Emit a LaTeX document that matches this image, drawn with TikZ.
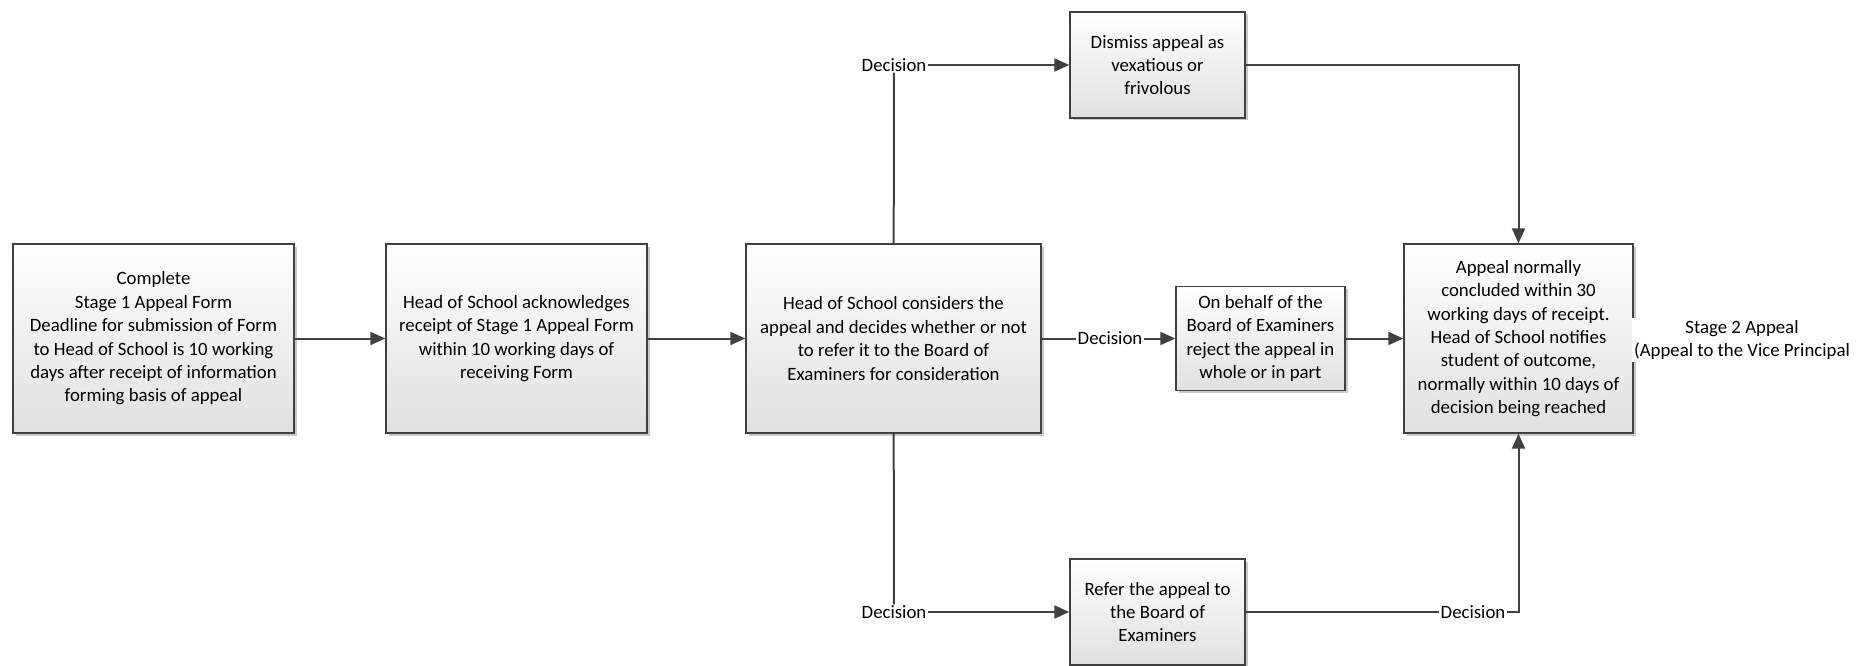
\documentclass[tikz,border=0pt]{standalone}
\usepackage{fontspec}
\setmainfont{Carlito}
\usetikzlibrary{arrows.meta,shadows}

\begin{document}
\begin{tikzpicture}[x=1pt, y=-1pt,
			box/.style={draw=black!75, line width=1.4pt, top color=white, bottom color=black!12,
				align=center, inner sep=2pt,
				drop shadow={shadow xshift=2.5pt, shadow yshift=-2.5pt, opacity=0.3, fill=black!70}},
			decision/.style={inner sep=1pt},
			link/.style={draw=black!75, line width=2pt},
			label/.style={fill=white, inner sep=2pt, align=center},
			>={Triangle[length=15pt,width=13pt]},
			font=\fontsize{18.8}{23.4}\selectfont]
	\useasboundingbox (0,0) rectangle (1874,666);
	\node[box, minimum width=281pt, minimum height=189pt] (complete) at (153.5,338.5)
		{Complete\\Stage 1 Appeal Form\\Deadline for submission of Form\\to Head of School is 10 working\\days after receipt of information\\forming basis of appeal};
	\node[box, minimum width=261pt, minimum height=189pt] (ack) at (516.5,338.5)
		{Head of School acknowledges\\receipt of Stage 1 Appeal Form\\within 10 working days of\\receiving Form};
	\node[box, minimum width=295pt, minimum height=189pt] (consider) at (893.5,338.5)
		{Head of School considers the\\appeal and decides whether or not\\to refer it to the Board of\\Examiners for consideration};
	\node[box, minimum width=169pt, minimum height=104pt] (reject) at (1260.5,338.5)
		{On behalf of the\\Board of Examiners\\reject the appeal in\\whole or in part};
	\node[box, minimum width=229pt, minimum height=189pt] (conclude) at (1518.5,338.5)
		{Appeal normally\\concluded within 30\\working days of receipt.\\Head of School notifies\\student of outcome,\\normally within 10 days of\\decision being reached};
	\node[box, minimum width=175pt, minimum height=106pt] (dismiss) at (1157.5,65)
		{Dismiss appeal as\\vexatious or\\frivolous};
	\node[box, minimum width=175pt, minimum height=106pt] (refer) at (1157.5,612)
		{Refer the appeal to\\the Board of\\Examiners};
	\node[label] (stagetwo) at (1742,340) {Stage 2 Appeal\\(Appeal to the Vice Principal};

	\node[decision] (dtop) at (894,65) {Decision};
	\node[decision] (dmid) at (1110,338.5) {Decision};
	\node[decision] (dbot) at (894,612) {Decision};
	\node[decision] (dref) at (1473,612) {Decision};

	\draw[link, ->] (complete) -- (ack);
	\draw[link, ->] (ack) -- (consider);
	\draw[link] (consider) -- (dmid);
	\draw[link, ->] (dmid) -- (reject);
	\draw[link, ->] (reject) -- (conclude);
	\draw[link] (consider) -- (dtop);
	\draw[link, ->] (dtop) -- (dismiss);
	\draw[link, ->] (dismiss) -| (conclude);
	\draw[link] (consider) -- (dbot);
	\draw[link, ->] (dbot) -- (refer);
	\draw[link] (refer) -- (dref);
	\draw[link, ->] (dref) -| (conclude);
\end{tikzpicture}
\end{document}
